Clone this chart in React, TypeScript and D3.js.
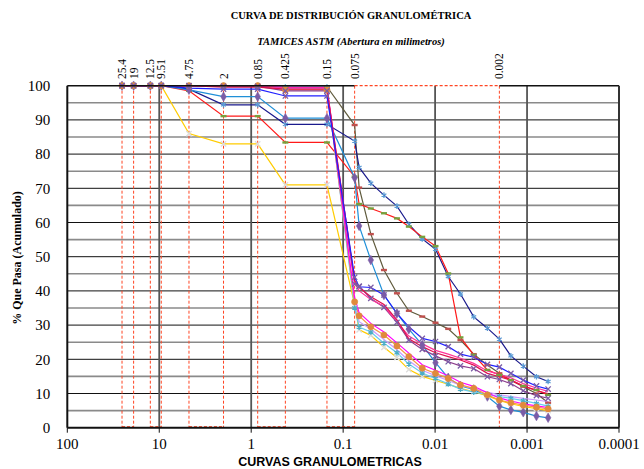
import React from "react";
import * as d3 from "d3";

const W = 644;
const H = 469;

// sieve openings (mm) + hydrometer diameters
const SIEVES = [25.4, 19, 12.5, 9.51, 4.75, 2, 0.85, 0.425, 0.15, 0.075];
const HYDRO_D = [0.067, 0.05, 0.036, 0.026, 0.0193, 0.0138, 0.0099, 0.0072, 0.0053, 0.0038, 0.0027, 0.002, 0.0015, 0.0011, 0.00079, 0.00059];
const DIAMS = SIEVES.concat(HYDRO_D);

const TOP_SIZES = [25.4, 19, 12.5, 9.51, 4.75, 2, 0.85, 0.425, 0.15, 0.075, 0.002];
const TOP_LABELS = ["25.4", "19", "12.5", "9.51", "4.75", "2", "0.85", "0.425", "0.15", "0.075", "0.002"];
const BOTTOM_PAIRS = [[25.4, 19], [12.5, 9.51], [4.75, 2], [0.85, 0.425], [0.15, 0.075]];

const X_TICKS = [100, 10, 1, 0.1, 0.01, 0.001, 0.0001];
const X_TICK_LABELS = ["100", "10", "1", "0.1", "0.01", "0.001", "0.0001"];
const Y_TICKS = [0, 10, 20, 30, 40, 50, 60, 70, 80, 90, 100];

// % passing per sample
const navy = [100, 100, 100, 100, 99, 94.4, 94.4, 88.7, 88.7, 83.8, 76.1, 71.5, 68, 64.8, 59.5, 55.2, 52.2, 44.2, 39.1, 32.4, 29.1, 25.9, 21, 18, 14.9, 13.5];
const red = [100, 100, 100, 100, 98.5, 91.1, 91.1, 83.4, 83.4, 73.4, 65.4, 64.1, 62.7, 61.2, 58.8, 55.8, 53.1, 45.1, 26.4, 21.3, 16.9, 15.4, 13.9, 12.2, 11, 9.6];
const olive = [100, 100, 100, 100, 100, 100, 100, 99.7, 99.7, 88.5, 70.2, 56.6, 46.1, 39.3, 34.2, 32.5, 30.7, 28.9, 25.6, 21.5, 18.3, 15.9, 13.9, 12, 10, 7.3];
const steel = [100, 100, 100, 100, 98.8, 96.8, 96.8, 90.5, 90.5, 73.1, 59, 49, 38.8, 33.4, 28.8, 24.2, 19, 14.6, 12.2, 11.2, 9.1, 6.3, 5.2, 4.5, 3.4, 2.9];
const blue = [100, 100, 100, 100, 99.3, 99, 99, 97, 97, 44, 41.2, 41, 38.8, 33.4, 29.5, 26.1, 25.2, 23.7, 21.5, 20.6, 18.5, 17.7, 15.9, 13.9, 12.2, 11.3];
const crimson = [100, 100, 100, 100, 100, 99.6, 99.6, 99, 99, 43, 41, 38.3, 36, 31.5, 26, 23.7, 21.9, 20.8, 19.8, 18.3, 15.9, 14.9, 13.9, 12.2, 10.8, 10];
const pink = [100, 100, 100, 100, 100, 100, 100, 99.4, 99.4, 42.5, 40, 37.5, 35.5, 31, 26.8, 24.5, 22.6, 21.5, 20.3, 18.8, 16.6, 15.6, 14.6, 12.9, 11.6, 10.6];
const purple = [100, 100, 100, 100, 100, 99.8, 99.8, 98.5, 98.5, 42, 41.4, 37.8, 35.2, 30.8, 25.6, 22.9, 21, 19.3, 18.1, 17.3, 14.9, 14.1, 12.9, 10.8, 9.4, 8.6];
const yellow = [100, 100, 100, 100, 86, 83, 83, 71, 71, 36, 28.6, 27, 23.5, 20.5, 17, 15, 13.8, 12.7, 11.5, 10.5, 9.3, 8, 7, 6.2, 5.6, 5];
const orange = [100, 100, 100, 100, 100, 100, 100, 98.8, 98.8, 36.8, 32.7, 29.5, 27.1, 23.9, 20.8, 17.4, 15.9, 14.4, 12.5, 11.5, 9.6, 8.1, 7.3, 6.6, 6, 5.5];
const magenta = [100, 100, 100, 100, 100, 100, 100, 99.5, 99.5, 38, 33.6, 30.5, 28, 24.8, 21.8, 18.4, 16.8, 15.2, 13.3, 12.1, 10.2, 8.7, 7.8, 7, 6.4, 5.9];
const violet = [100, 100, 100, 100, 100, 100, 100, 99.2, 99.2, 36, 31, 28.8, 25.8, 22.8, 19.6, 16.8, 15.2, 13.8, 12.4, 11.4, 10.4, 9.6, 9.1, 8.6, 8.1, 7.6];
const cyan = [100, 100, 100, 100, 100, 100, 100, 99.6, 99.6, 35, 29.4, 28, 24.7, 21.9, 18.6, 16, 14.4, 12.8, 11.3, 10.4, 9.7, 9.1, 8.6, 7.9, 7.1, 6.3];

const series = [
  { values: olive, color: "#5f5a3c", marker: "dash", mcolor: "#c0504d" },
  { values: navy, color: "#1a1a8c", marker: "asterisk", mcolor: "#5b9bd5" },
  { values: red, color: "#ff1a1a", marker: "dash", mcolor: "#77a03c" },
  { values: steel, color: "#1f8fd8", marker: "diamond", mcolor: "#7a5ca6" },
  { values: yellow, color: "#ffcc00", marker: "times", mcolor: "#dddddd" },
  { values: violet, color: "#cc99ff", marker: "none", mcolor: "#cc99ff" },
  { values: cyan, color: "#66ccee", marker: "asterisk", mcolor: "#4bacc6" },
  { values: orange, color: "#f79646", marker: "circle", mcolor: "#e08a3c" },
  { values: magenta, color: "#ff00ff", marker: "none", mcolor: "#ff00ff" },
  { values: purple, color: "#8c3c8c", marker: "times", mcolor: "#7a5ca6" },
  { values: pink, color: "#ff3399", marker: "none", mcolor: "#ff3399" },
  { values: crimson, color: "#e0104f", marker: "none", mcolor: "#e0104f" },
  { values: blue, color: "#2020ff", marker: "times", mcolor: "#7a5ca6" },
];

const x = d3.scaleLog().domain([100, 0.0001]).range([67.3, 619]);
const y = d3.scaleLinear().domain([0, 100]).range([427.7, 85.7]);

const line = d3
  .line<number>()
  .x((_, i) => x(DIAMS[i]))
  .y((v) => y(v));

const symPath = (type: string) => {
  if (type === "asterisk") return d3.symbol(d3.symbolAsterisk, 22)();
  if (type === "times") return d3.symbol(d3.symbolTimes, 20)();
  if (type === "diamond") return d3.symbol(d3.symbolDiamond, 26)();
  if (type === "circle") return d3.symbol(d3.symbolCircle, 30)();
  return null;
};

const Marker = ({ type, color, cx, cy }) => {
  if (type === "none") return null;
  if (type === "dash") {
    return <rect x={cx - 3} y={cy - 1.2} width={6} height={2.4} fill={color} />;
  }
  const stroke = type === "asterisk" || type === "times";
  return (
    <path
      d={symPath(type)}
      transform={`translate(${cx},${cy})`}
      fill={stroke ? "none" : color}
      stroke={color}
      strokeWidth={stroke ? 1.3 : 0.6}
    />
  );
};

const App = () => {
  const grid5 = d3.range(5, 100, 5);
  const left = x(100);
  const right = x(0.0001);
  const top = y(100);
  const bottom = y(0);
  const redDash = "#ff4422";

  return (
    <svg width={W} height={H} style={{ position: "absolute", left: 0, top: 0, background: "#fff" }}>
      {/* titles */}
      <text x={351} y={19} textAnchor="middle" fontFamily="Liberation Serif" fontWeight="bold" fontSize={10.5}>
        CURVA DE DISTRIBUCIÓN GRANULOMÉTRICA
      </text>
      <text x={351} y={45} textAnchor="middle" fontFamily="Liberation Serif" fontWeight="bold" fontStyle="italic" fontSize={10.5}>
        TAMICES ASTM (Abertura en milimetros)
      </text>

      {/* horizontal grid */}
      {grid5.map((v) => (
        <line
          key={"h" + v}
          x1={left}
          x2={right}
          y1={y(v)}
          y2={y(v)}
          stroke={v % 10 === 0 ? "#111" : "#8a8a8a"}
          strokeWidth={v % 10 === 0 ? 1 : 1.6}
        />
      ))}
      {/* decade lines */}
      {X_TICKS.slice(1, -1).map((d) => (
        <line key={"v" + d} x1={x(d)} x2={x(d)} y1={top} y2={bottom} stroke="#555" strokeWidth={1.8} />
      ))}

      {/* sieve lines */}
      {TOP_SIZES.map((d) => (
        <line key={"s" + d} x1={x(d)} x2={x(d)} y1={top} y2={bottom} stroke={redDash} strokeWidth={1} strokeDasharray="3,2" />
      ))}
      {BOTTOM_PAIRS.map(([a, b]) => (
        <line key={"p" + a} x1={x(a)} x2={x(b)} y1={bottom - 1} y2={bottom - 1} stroke={redDash} strokeWidth={1} strokeDasharray="3,2" />
      ))}

      {/* curves */}
      {series.map((s, i) => (
        <path key={"l" + i} d={line(s.values)} fill="none" stroke={s.color} strokeWidth={1.2} />
      ))}
      {series.map((s, i) => (
        <g key={"m" + i}>
          {s.values.map((v, j) => (
            <Marker key={j} type={s.marker} color={s.mcolor} cx={x(DIAMS[j])} cy={y(v)} />
          ))}
        </g>
      ))}

      {/* frame */}
      <line x1={left} x2={x(0.075)} y1={top} y2={top} stroke="#111" strokeWidth={1.5} />
      <line x1={x(0.075)} x2={x(0.002)} y1={top} y2={top} stroke={redDash} strokeWidth={1.2} strokeDasharray="3,2" />
      <line x1={x(0.002)} x2={right} y1={top} y2={top} stroke="#111" strokeWidth={1.5} />
      <line x1={right} x2={right} y1={top} y2={bottom} stroke="#333" strokeWidth={2} />
      <line x1={left} x2={left} y1={top} y2={bottom} stroke="#111" strokeWidth={2} />
      <line x1={left} x2={right} y1={bottom} y2={bottom} stroke="#111" strokeWidth={2} />
      {X_TICKS.map((d) => (
        <line key={"t" + d} x1={x(d)} x2={x(d)} y1={bottom} y2={bottom + 5} stroke="#111" strokeWidth={1} />
      ))}

      {/* top sieve labels */}
      {TOP_SIZES.map((d, i) => (
        <text
          key={"tl" + d}
          transform={`translate(${x(d)},79) rotate(-90)`}
          dy="0.35em"
          fontFamily="Liberation Serif"
          fontSize={11.5}
        >
          {TOP_LABELS[i]}
        </text>
      ))}

      {/* y axis labels */}
      {Y_TICKS.map((v) => (
        <text key={"yl" + v} x={left - 17} y={y(v)} dy="0.35em" textAnchor="end" fontFamily="Liberation Serif" fontSize={15}>
          {v}
        </text>
      ))}
      {/* x axis labels */}
      {X_TICKS.map((d, i) => (
        <text key={"xl" + d} x={x(d)} y={449} textAnchor="middle" fontFamily="Liberation Serif" fontSize={15}>
          {X_TICK_LABELS[i]}
        </text>
      ))}

      <text x={330} y={466} textAnchor="middle" fontFamily="Liberation Sans" fontWeight="bold" fontSize={12.5}>
        CURVAS GRANULOMETRICAS
      </text>
      <text
        transform={`translate(21,258) rotate(-90)`}
        textAnchor="middle"
        fontFamily="Liberation Serif"
        fontWeight="bold"
        fontSize={12}
      >
        % Que Pasa (Acumulado)
      </text>
    </svg>
  );
};

export default App;
